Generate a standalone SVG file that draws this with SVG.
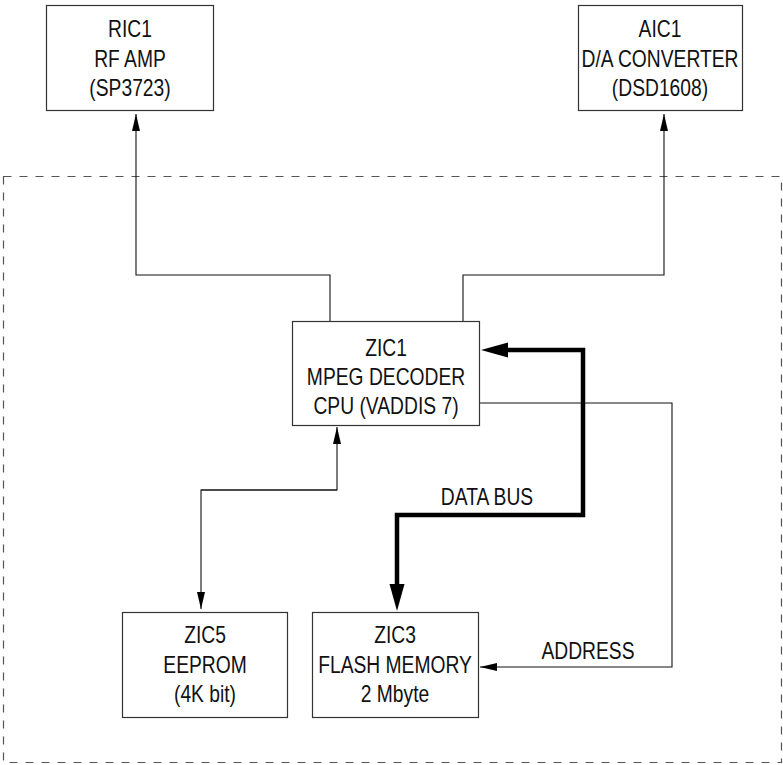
<svg xmlns="http://www.w3.org/2000/svg" width="783" height="765" viewBox="0 0 783 765">
<style>
  .box{fill:#fff;stroke:#333;stroke-width:1.2}
  .t{font-family:"Liberation Sans",Arial,sans-serif;font-size:23.5px;fill:#111;text-anchor:middle}
  .thin{fill:none;stroke:#111;stroke-width:1.1}
  .thick{fill:none;stroke:#000;stroke-width:4.5}
  .dash{fill:none;stroke:#555;stroke-width:1.2;stroke-dasharray:8 8}
</style>
<defs>
  <marker id="a" markerUnits="userSpaceOnUse" markerWidth="18" markerHeight="10" refX="17" refY="4" orient="auto">
    <path d="M0,0 L17,4 L0,8 Z" fill="#000"/>
  </marker>
</defs>
<rect class="dash" x="3.5" y="176.5" width="778" height="586"/>
<g id="connectors">
  <path class="thin" d="M330,321 V275 H136 V114" marker-end="url(#a)"/>
  <path class="thin" d="M463,321 V275 H664 V114" marker-end="url(#a)"/>
  <path class="thin" d="M337,490 H201 V609" marker-end="url(#a)"/>
  <path class="thin" d="M201,490 H337 V427" marker-end="url(#a)"/>
  <path class="thin" d="M479,403 H672 V667 H480" marker-end="url(#a)"/>
  <path class="thick" d="M506,350 H583 V515 H397 V586"/>
  <path d="M481,350 L508,342.5 L508,357.5 Z" fill="#000"/>
  <path d="M397,611 L389.5,584 L404.5,584 Z" fill="#000"/>
  <text class="t" transform="translate(487,505) scale(0.82,1)">DATA BUS</text>
  <text class="t" transform="translate(588,659) scale(0.82,1)">ADDRESS</text>
</g>
<g id="ric1">
  <rect class="box" x="46.5" y="5.5" width="167" height="105"/>
  <text class="t" transform="translate(130,37) scale(0.82,1)">RIC1</text>
  <text class="t" transform="translate(130,67) scale(0.82,1)">RF AMP</text>
  <text class="t" transform="translate(130,96) scale(0.82,1)">(SP3723)</text>
</g>
<g id="aic1">
  <rect class="box" x="578.5" y="5.5" width="164" height="105"/>
  <text class="t" transform="translate(660,37) scale(0.82,1)">AIC1</text>
  <text class="t" transform="translate(660,67) scale(0.82,1)">D/A CONVERTER</text>
  <text class="t" transform="translate(660,96) scale(0.82,1)">(DSD1608)</text>
</g>
<g id="zic1">
  <rect class="box" x="292.5" y="321.5" width="187" height="104"/>
  <text class="t" transform="translate(386,356) scale(0.82,1)">ZIC1</text>
  <text class="t" transform="translate(386,385) scale(0.82,1)">MPEG DECODER</text>
  <text class="t" transform="translate(386,414) scale(0.82,1)">CPU (VADDIS 7)</text>
</g>
<g id="zic5">
  <rect class="box" x="122.5" y="612.5" width="165" height="105"/>
  <text class="t" transform="translate(205,643) scale(0.82,1)">ZIC5</text>
  <text class="t" transform="translate(205,673) scale(0.82,1)">EEPROM</text>
  <text class="t" transform="translate(205,702) scale(0.82,1)">(4K bit)</text>
</g>
<g id="zic3">
  <rect class="box" x="312.5" y="612.5" width="166" height="105"/>
  <text class="t" transform="translate(395,643) scale(0.82,1)">ZIC3</text>
  <text class="t" transform="translate(395,673) scale(0.82,1)">FLASH MEMORY</text>
  <text class="t" transform="translate(395,702) scale(0.82,1)">2 Mbyte</text>
</g>
</svg>
